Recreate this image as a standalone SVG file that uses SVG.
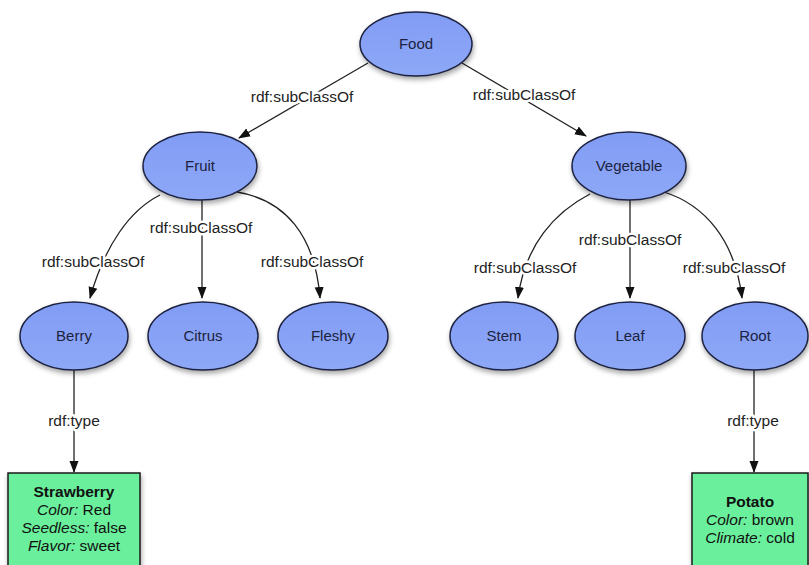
<svg xmlns="http://www.w3.org/2000/svg" width="809" height="565" viewBox="0 0 809 565">
<style>
.node ellipse{fill:url(#g);stroke:#1c2240;stroke-width:1.5;filter:url(#sh)}
.node text{font-family:"Liberation Sans",Arial,sans-serif;font-size:15px;fill:#1c2240;text-anchor:middle}
.box rect{fill:#6bf09c;stroke:#1a1a1a;stroke-width:1.5;filter:url(#sh)}
.box text{font-family:"Liberation Sans",Arial,sans-serif;font-size:15.5px;fill:#111;text-anchor:middle}
.edge{fill:none;stroke:#222;stroke-width:1.3;marker-end:url(#ar)}
.lbl{font-family:"Liberation Sans",Arial,sans-serif;font-size:15.5px;fill:#222;text-anchor:middle;stroke:#fff;stroke-width:5;paint-order:stroke;stroke-linejoin:round}
</style>
<defs>
<linearGradient id="g" x1="0" y1="0" x2="0" y2="1">
<stop offset="0" stop-color="#819cf4"/>
<stop offset="1" stop-color="#8ea8f7"/>
</linearGradient>
<filter id="sh" x="-20%" y="-20%" width="150%" height="160%">
<feDropShadow dx="1" dy="3" stdDeviation="2.5" flood-color="#000" flood-opacity="0.35"/>
</filter>
<marker id="ar" markerUnits="userSpaceOnUse" markerWidth="12" markerHeight="10" refX="11" refY="4.5" orient="auto" viewBox="0 0 12 9">
<path d="M0,0 L12,4.5 L0,9 z" fill="#111"/>
</marker>
</defs>
<rect width="809" height="565" fill="#fff"/>
<g id="connectors">
<path class="edge" d="M368,63 L239,138"/>
<path class="edge" d="M462,63 L586,136"/>
<path class="edge" d="M160,195 C130,210 105,245 90,298"/>
<path class="edge" d="M202,200 L202,298"/>
<path class="edge" d="M237,192 C285,200 315,235 320,298"/>
<path class="edge" d="M590,194 C555,212 525,245 518,298"/>
<path class="edge" d="M630,200 L630,298"/>
<path class="edge" d="M664,192 C705,205 735,240 742,298"/>
<path class="edge" d="M74,370 L74,472"/>
<path class="edge" d="M754,370 L754,472"/>
<text class="lbl" x="302" y="102">rdf:subClassOf</text>
<text class="lbl" x="524" y="100">rdf:subClassOf</text>
<text class="lbl" x="93" y="267">rdf:subClassOf</text>
<text class="lbl" x="201" y="233">rdf:subClassOf</text>
<text class="lbl" x="312" y="267">rdf:subClassOf</text>
<text class="lbl" x="525" y="273">rdf:subClassOf</text>
<text class="lbl" x="630" y="245">rdf:subClassOf</text>
<text class="lbl" x="734" y="273">rdf:subClassOf</text>
<text class="lbl" x="74" y="426">rdf:type</text>
<text class="lbl" x="753" y="426">rdf:type</text>
</g>
<g id="food" class="node"><ellipse cx="416" cy="44" rx="56" ry="32"/><text x="416" y="49">Food</text></g>
<g id="fruit" class="node"><ellipse cx="200" cy="166" rx="57" ry="34"/><text x="200" y="171">Fruit</text></g>
<g id="vegetable" class="node"><ellipse cx="629" cy="166" rx="57" ry="34"/><text x="629" y="171">Vegetable</text></g>
<g id="berry" class="node"><ellipse cx="74" cy="336" rx="54" ry="34"/><text x="74" y="341">Berry</text></g>
<g id="citrus" class="node"><ellipse cx="203" cy="336" rx="55" ry="34"/><text x="203" y="341">Citrus</text></g>
<g id="fleshy" class="node"><ellipse cx="333" cy="336" rx="55" ry="34"/><text x="333" y="341">Fleshy</text></g>
<g id="stem" class="node"><ellipse cx="504" cy="336" rx="54" ry="34"/><text x="504" y="341">Stem</text></g>
<g id="leaf" class="node"><ellipse cx="630" cy="336" rx="55" ry="34"/><text x="630" y="341">Leaf</text></g>
<g id="root" class="node"><ellipse cx="755" cy="336" rx="53" ry="34"/><text x="755" y="341">Root</text></g>
<g id="strawberry" class="box"><rect x="8" y="473" width="132" height="100"/>
<text x="74" y="497" font-weight="bold">Strawberry</text>
<text x="74" y="515"><tspan font-style="italic">Color:</tspan> Red</text>
<text x="74" y="533"><tspan font-style="italic">Seedless:</tspan> false</text>
<text x="74" y="551"><tspan font-style="italic">Flavor:</tspan> sweet</text>
</g>
<g id="potato" class="box"><rect x="692" y="473" width="116" height="100"/>
<text x="750" y="507" font-weight="bold">Potato</text>
<text x="750" y="525"><tspan font-style="italic">Color:</tspan> brown</text>
<text x="750" y="543"><tspan font-style="italic">Climate:</tspan> cold</text>
</g>
</svg>
